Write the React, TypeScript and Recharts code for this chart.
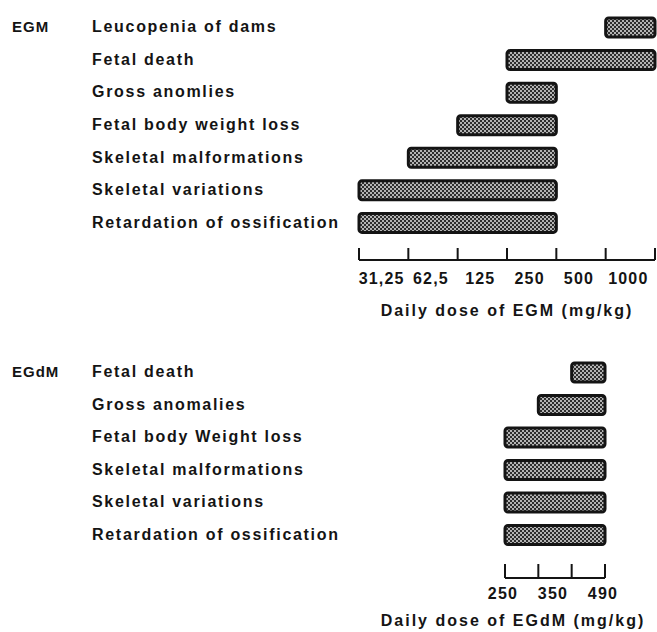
import { BarChart, Bar, XAxis, YAxis } from 'recharts'

document.body.style.margin = '0'

const FONT = '"Liberation Sans", Arial, Helvetica, sans-serif'
const INK = '#141414'

// EGM panel: dose groups on a doubling scale, one interval per group
const egmCategories = [
  'Leucopenia of dams',
  'Fetal death',
  'Gross anomlies',
  'Fetal body weight loss',
  'Skeletal malformations',
  'Skeletal variations',
  'Retardation of ossification',
]
const egmDoses = ['31,25', '62,5', '125', '250', '500', '1000']
// first and last dose group covered by each effect
const egmFrom = ['1000', '250', '250', '125', '62,5', '31,25', '31,25']
const egmTo = ['1000', '1000', '250', '250', '250', '250', '250']

// EGdM panel: axis positions in tick intervals (250 .. 490)
const egdmCategories = [
  'Fetal death',
  'Gross anomalies',
  'Fetal body Weight loss',
  'Skeletal malformations',
  'Skeletal variations',
  'Retardation of ossification',
]
const egdmTickLabels = ['250', '350', '490']
const egdmTickLabelPos = [0, 1.5, 3]
const egdmFrom = [2, 1, 0, 0, 0, 0]
const egdmTo = [3, 3, 3, 3, 3, 3]

const egmData = egmCategories.map((name, i) => ({
  name,
  range: [egmDoses.indexOf(egmFrom[i]), egmDoses.indexOf(egmTo[i]) + 1],
}))
const egmMarks = egmDoses.map((_, i) => i).concat([egmDoses.length])
const egmLabels: Record<string, string> = {}
egmDoses.forEach((d, i) => {
  egmLabels[String(i + 0.5)] = d
})
const egmTicks = [...egmMarks, ...egmDoses.map((_, i) => i + 0.5)].sort((a, b) => a - b)

const egdmData = egdmCategories.map((name, i) => ({
  name,
  range: [egdmFrom[i], egdmTo[i]],
}))
const egdmMarks = [0, 1, 2, 3]
const egdmLabels: Record<string, string> = {}
egdmTickLabelPos.forEach((p, i) => {
  egdmLabels[String(p)] = egdmTickLabels[i]
})
const egdmTicks = Array.from(new Set([...egdmMarks, ...egdmTickLabelPos])).sort((a, b) => a - b)

function HatchedBar(props: any) {
  const { x, y, width, height, patternId } = props
  if (!width || !height) return null
  return (
    <rect
      x={x}
      y={y}
      width={width}
      height={height}
      rx={3}
      fill={`url(#${patternId})`}
      stroke={INK}
      strokeWidth={3}
    />
  )
}

function Checker({ id }: { id: string }) {
  return (
    <defs>
      <pattern id={id} width={4} height={4} patternUnits="userSpaceOnUse">
        <rect width={4} height={4} fill="#b4b4b4" />
        <rect width={2} height={2} fill="#2e2e2e" />
        <rect x={2} y={2} width={2} height={2} fill="#2e2e2e" />
      </pattern>
    </defs>
  )
}

function makeCategoryTick(panel: string, first: string) {
  return function CategoryTick(props: any) {
    const { y, payload } = props
    return (
      <g>
        {payload.value === first && (
          <text x={12} y={y} dy={5} fontFamily={FONT} fontWeight="bold" fontSize={15} letterSpacing={1} fill={INK}>
            {panel}
          </text>
        )}
        <text x={92} y={y} dy={5} fontFamily={FONT} fontWeight="bold" fontSize={16} letterSpacing={1.7} fill={INK}>
          {payload.value}
        </text>
      </g>
    )
  }
}

function makeDoseTick(marks: number[], labels: Record<string, string>, markLen: number, labelDy: number) {
  return function DoseTick(props: any) {
    const { x, y, payload } = props
    const v = payload.value
    const label = labels[String(v)]
    return (
      <g>
        {marks.includes(v) && <line x1={x} x2={x} y1={y - markLen} y2={y} stroke={INK} strokeWidth={2} />}
        {label && (
          <text x={x - 2} y={y + labelDy} textAnchor="middle" fontFamily={FONT} fontWeight="bold" fontSize={16} letterSpacing={1.2} fill={INK}>
            {label}
          </text>
        )}
      </g>
    )
  }
}

function axisTitle(text: string, dx: number, dy: number) {
  return (p: any) => {
    const vb = p.viewBox
    return (
      <text
        x={vb.x + vb.width / 2 + dx}
        y={vb.y + dy}
        textAnchor="middle"
        fontFamily={FONT}
        fontWeight="bold"
        fontSize={16}
        letterSpacing={2}
        fill={INK}
      >
        {text}
      </text>
    )
  }
}

export default function App() {
  return (
    <div style={{ width: 657, height: 632, background: '#fff' }}>
      <BarChart
        width={657}
        height={330}
        data={egmData}
        layout="vertical"
        margin={{ top: 11, right: 2, bottom: 0, left: 0 }}
      >
        <Checker id="checkEgm" />
        <YAxis
          type="category"
          dataKey="name"
          width={359}
          axisLine={false}
          tickLine={false}
          padding={{ top: 0, bottom: 21 }}
          tick={makeCategoryTick('EGM', egmCategories[0])}
        />
        <XAxis
          type="number"
          domain={[0, egmDoses.length]}
          ticks={egmTicks}
          interval={0}
          height={70}
          tickSize={0}
          tickMargin={0}
          tickLine={false}
          axisLine={{ stroke: INK, strokeWidth: 2 }}
          tick={makeDoseTick(egmMarks, egmLabels, 12, 24)}
          label={{ content: axisTitle('Daily dose of EGM (mg/kg)', 0, 56) }}
        />
        <Bar
          dataKey="range"
          barSize={19}
          isAnimationActive={false}
          shape={(p: any) => <HatchedBar {...p} patternId="checkEgm" />}
        />
      </BarChart>
      <BarChart
        width={657}
        height={302}
        data={egdmData}
        layout="vertical"
        margin={{ top: 26, right: 52, bottom: 0, left: 0 }}
      >
        <Checker id="checkEgdm" />
        <YAxis
          type="category"
          dataKey="name"
          width={505}
          axisLine={false}
          tickLine={false}
          padding={{ top: 0, bottom: 27 }}
          tick={makeCategoryTick('EGdM', egdmCategories[0])}
        />
        <XAxis
          type="number"
          domain={[0, 3]}
          ticks={egdmTicks}
          interval={0}
          height={54}
          tickSize={0}
          tickMargin={0}
          tickLine={false}
          axisLine={{ stroke: INK, strokeWidth: 2 }}
          tick={makeDoseTick(egdmMarks, egdmLabels, 14, 21)}
          label={{ content: axisTitle('Daily dose of EGdM (mg/kg)', -42, 48) }}
        />
        <Bar
          dataKey="range"
          barSize={19}
          isAnimationActive={false}
          shape={(p: any) => <HatchedBar {...p} patternId="checkEgdm" />}
        />
      </BarChart>
    </div>
  )
}
